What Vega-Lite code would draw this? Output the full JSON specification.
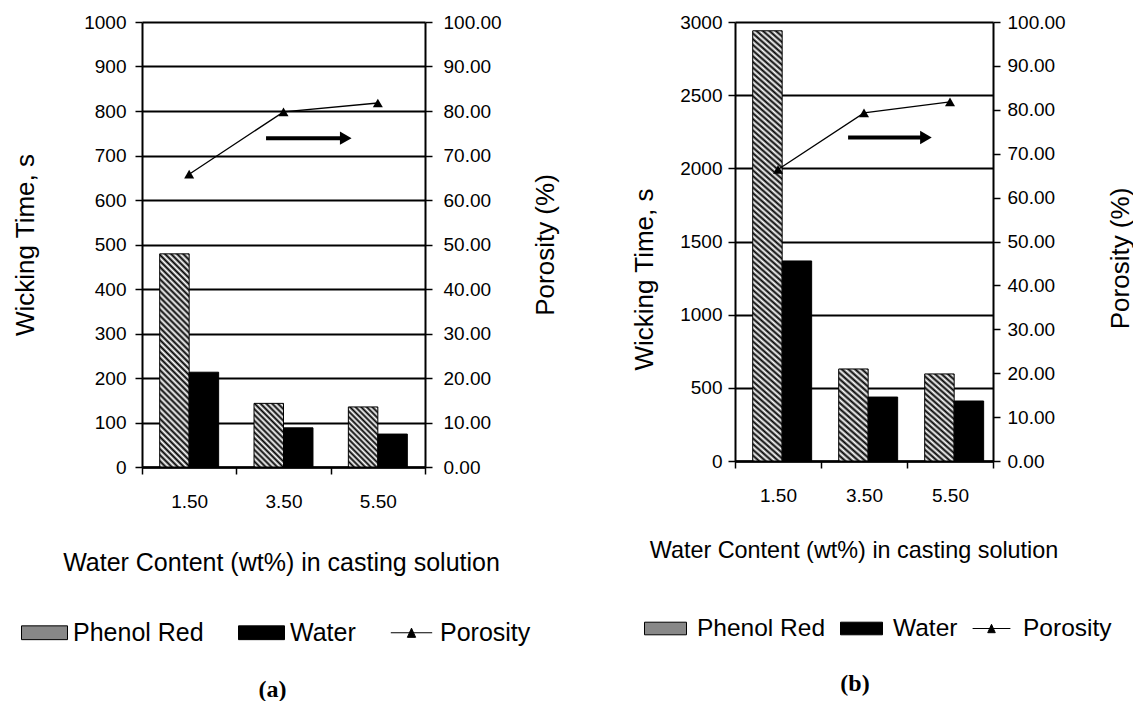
{
"$schema": "https://vega.github.io/schema/vega-lite/v6.json",
"padding": {"left": 12, "top": 13, "right": 0, "bottom": 0},
"spacing": 73,
"config": {
  "view": {"stroke": null},
  "axis": {"labelFont": "Liberation Sans", "labelFontSize": 19, "labelColor": "#000", "titleFont": "Liberation Sans", "titleFontSize": 26, "titleFontWeight": "normal", "titleColor": "#000", "domainColor": "#000", "domainWidth": 2, "tickColor": "#000", "tickWidth": 1.5, "tickSize": 7, "gridColor": "#000", "gridWidth": 1.8, "gridOpacity": 1, "labelOverlap": false, "labelFlush": false},
  "title": {"font": "Liberation Serif", "fontSize": 24, "fontWeight": "bold", "color": "#000"}
},
"resolve": {"scale": {"fill": "independent"}, "legend": {"fill": "independent"}},
"datasets": {
  "wick_a": [
    {"wc": "1.50", "series": "Phenol Red", "time": 479},
    {"wc": "1.50", "series": "Water", "time": 213},
    {"wc": "3.50", "series": "Phenol Red", "time": 143},
    {"wc": "3.50", "series": "Water", "time": 88},
    {"wc": "5.50", "series": "Phenol Red", "time": 135},
    {"wc": "5.50", "series": "Water", "time": 74}
  ],
  "por_a": [
    {"wc": "1.50", "porosity": 65.8},
    {"wc": "3.50", "porosity": 79.8},
    {"wc": "5.50", "porosity": 81.8}
  ],
  "arrow_a": [{"from": 3.13, "to": 4.82, "level": 73.9}],
  "wick_b": [
    {"wc": "1.50", "series": "Phenol Red", "time": 2940},
    {"wc": "1.50", "series": "Water", "time": 1367},
    {"wc": "3.50", "series": "Phenol Red", "time": 629},
    {"wc": "3.50", "series": "Water", "time": 437},
    {"wc": "5.50", "series": "Phenol Red", "time": 595},
    {"wc": "5.50", "series": "Water", "time": 410}
  ],
  "por_b": [
    {"wc": "1.50", "porosity": 66.4},
    {"wc": "3.50", "porosity": 79.3},
    {"wc": "5.50", "porosity": 81.8}
  ],
  "arrow_b": [{"from": 3.13, "to": 4.94, "level": 73.7}]
},
"hconcat": [
{
  "width": 283, "height": 445,
  "title": {"text": "(a)", "orient": "bottom", "anchor": "middle", "frame": "group", "dx": -11, "offset": 32},
  "resolve": {"scale": {"x": "independent", "y": "independent"}},
  "layer": [
    {
      "data": {"name": "wick_a"},
      "mark": {"type": "bar", "stroke": "#000", "strokeWidth": 1},
      "encoding": {
        "x": {"field": "wc", "type": "nominal", "sort": ["1.50", "3.50", "5.50"], "scale": {"paddingInner": 0, "paddingOuter": 0},
          "axis": {"title": "Water Content (wt%) in casting solution", "labelAngle": 0, "tickBand": "extent", "labelPadding": 18, "domainWidth": 2.5, "titleFontSize": 25, "titleX": 139, "titleY": 95, "titleAlign": "center", "titleBaseline": "middle"}},
        "xOffset": {"field": "series", "type": "nominal", "sort": ["Phenol Red", "Water"], "scale": {"paddingInner": 0, "paddingOuter": 0.6}},
        "y": {"field": "time", "type": "quantitative", "scale": {"domain": [0, 1000], "nice": false},
          "axis": {"values": [0,100,200,300,400,500,600,700,800,900,1000], "format": "d", "grid": true, "labelPadding": 9, "title": "Wicking Time, s", "titleAngle": -90, "titleX": -117, "titleY": 222.5, "titleAlign": "center", "titleBaseline": "middle"}},
        "fill": {
          "condition": [
            {"test": "datum.wc === '1.50' && datum.series === 'Phenol Red'", "value": {"gradient": "linear", "x1": 0, "y1": 1, "x2": 0.15455, "y2": -0.11698, "stops": [{"offset":0,"color":"#000"},{"offset":0.0125,"color":"#fff"},{"offset":0.025,"color":"#000"},{"offset":0.0375,"color":"#fff"},{"offset":0.05,"color":"#000"},{"offset":0.0625,"color":"#fff"},{"offset":0.075,"color":"#000"},{"offset":0.0875,"color":"#fff"},{"offset":0.1,"color":"#000"},{"offset":0.1125,"color":"#fff"},{"offset":0.125,"color":"#000"},{"offset":0.1375,"color":"#fff"},{"offset":0.15,"color":"#000"},{"offset":0.1625,"color":"#fff"},{"offset":0.175,"color":"#000"},{"offset":0.1875,"color":"#fff"},{"offset":0.2,"color":"#000"},{"offset":0.2125,"color":"#fff"},{"offset":0.225,"color":"#000"},{"offset":0.2375,"color":"#fff"},{"offset":0.25,"color":"#000"},{"offset":0.2625,"color":"#fff"},{"offset":0.275,"color":"#000"},{"offset":0.2875,"color":"#fff"},{"offset":0.3,"color":"#000"},{"offset":0.3125,"color":"#fff"},{"offset":0.325,"color":"#000"},{"offset":0.3375,"color":"#fff"},{"offset":0.35,"color":"#000"},{"offset":0.3625,"color":"#fff"},{"offset":0.375,"color":"#000"},{"offset":0.3875,"color":"#fff"},{"offset":0.4,"color":"#000"},{"offset":0.4125,"color":"#fff"},{"offset":0.425,"color":"#000"},{"offset":0.4375,"color":"#fff"},{"offset":0.45,"color":"#000"},{"offset":0.4625,"color":"#fff"},{"offset":0.475,"color":"#000"},{"offset":0.4875,"color":"#fff"},{"offset":0.5,"color":"#000"},{"offset":0.5125,"color":"#fff"},{"offset":0.525,"color":"#000"},{"offset":0.5375,"color":"#fff"},{"offset":0.55,"color":"#000"},{"offset":0.5625,"color":"#fff"},{"offset":0.575,"color":"#000"},{"offset":0.5875,"color":"#fff"},{"offset":0.6,"color":"#000"},{"offset":0.6125,"color":"#fff"},{"offset":0.625,"color":"#000"},{"offset":0.6375,"color":"#fff"},{"offset":0.65,"color":"#000"},{"offset":0.6625,"color":"#fff"},{"offset":0.675,"color":"#000"},{"offset":0.6875,"color":"#fff"},{"offset":0.7,"color":"#000"},{"offset":0.7125,"color":"#fff"},{"offset":0.725,"color":"#000"},{"offset":0.7375,"color":"#fff"},{"offset":0.75,"color":"#000"},{"offset":0.7625,"color":"#fff"},{"offset":0.775,"color":"#000"},{"offset":0.7875,"color":"#fff"},{"offset":0.8,"color":"#000"},{"offset":0.8125,"color":"#fff"},{"offset":0.825,"color":"#000"},{"offset":0.8375,"color":"#fff"},{"offset":0.85,"color":"#000"},{"offset":0.8625,"color":"#fff"},{"offset":0.875,"color":"#000"},{"offset":0.8875,"color":"#fff"},{"offset":0.9,"color":"#000"},{"offset":0.9125,"color":"#fff"},{"offset":0.925,"color":"#000"},{"offset":0.9375,"color":"#fff"},{"offset":0.95,"color":"#000"},{"offset":0.9625,"color":"#fff"},{"offset":0.975,"color":"#000"},{"offset":0.9875,"color":"#fff"},{"offset":1,"color":"#000"}]}},
            {"test": "datum.wc === '3.50' && datum.series === 'Phenol Red'", "value": {"gradient": "linear", "x1": 0, "y1": 1, "x2": 0.55843, "y2": -0.2047, "stops": [{"offset":0,"color":"#000"},{"offset":0.03125,"color":"#fff"},{"offset":0.0625,"color":"#000"},{"offset":0.09375,"color":"#fff"},{"offset":0.125,"color":"#000"},{"offset":0.15625,"color":"#fff"},{"offset":0.1875,"color":"#000"},{"offset":0.21875,"color":"#fff"},{"offset":0.25,"color":"#000"},{"offset":0.28125,"color":"#fff"},{"offset":0.3125,"color":"#000"},{"offset":0.34375,"color":"#fff"},{"offset":0.375,"color":"#000"},{"offset":0.40625,"color":"#fff"},{"offset":0.4375,"color":"#000"},{"offset":0.46875,"color":"#fff"},{"offset":0.5,"color":"#000"},{"offset":0.53125,"color":"#fff"},{"offset":0.5625,"color":"#000"},{"offset":0.59375,"color":"#fff"},{"offset":0.625,"color":"#000"},{"offset":0.65625,"color":"#fff"},{"offset":0.6875,"color":"#000"},{"offset":0.71875,"color":"#fff"},{"offset":0.75,"color":"#000"},{"offset":0.78125,"color":"#fff"},{"offset":0.8125,"color":"#000"},{"offset":0.84375,"color":"#fff"},{"offset":0.875,"color":"#000"},{"offset":0.90625,"color":"#fff"},{"offset":0.9375,"color":"#000"},{"offset":0.96875,"color":"#fff"},{"offset":1,"color":"#000"}]}},
            {"test": "datum.wc === '5.50' && datum.series === 'Phenol Red'", "value": {"gradient": "linear", "x1": 0, "y1": 1, "x2": 0.58988, "y2": -0.20136, "stops": [{"offset":0,"color":"#000"},{"offset":0.03125,"color":"#fff"},{"offset":0.0625,"color":"#000"},{"offset":0.09375,"color":"#fff"},{"offset":0.125,"color":"#000"},{"offset":0.15625,"color":"#fff"},{"offset":0.1875,"color":"#000"},{"offset":0.21875,"color":"#fff"},{"offset":0.25,"color":"#000"},{"offset":0.28125,"color":"#fff"},{"offset":0.3125,"color":"#000"},{"offset":0.34375,"color":"#fff"},{"offset":0.375,"color":"#000"},{"offset":0.40625,"color":"#fff"},{"offset":0.4375,"color":"#000"},{"offset":0.46875,"color":"#fff"},{"offset":0.5,"color":"#000"},{"offset":0.53125,"color":"#fff"},{"offset":0.5625,"color":"#000"},{"offset":0.59375,"color":"#fff"},{"offset":0.625,"color":"#000"},{"offset":0.65625,"color":"#fff"},{"offset":0.6875,"color":"#000"},{"offset":0.71875,"color":"#fff"},{"offset":0.75,"color":"#000"},{"offset":0.78125,"color":"#fff"},{"offset":0.8125,"color":"#000"},{"offset":0.84375,"color":"#fff"},{"offset":0.875,"color":"#000"},{"offset":0.90625,"color":"#fff"},{"offset":0.9375,"color":"#000"},{"offset":0.96875,"color":"#fff"},{"offset":1,"color":"#000"}]}}
          ],
          "field": "series", "type": "nominal",
          "scale": {"domain": ["Phenol Red", "Water", "Porosity"], "range": ["#888888", "#000000", "#000000"]},
          "legend": {"orient": "none", "legendX": -121, "legendY": 587, "direction": "horizontal", "title": null, "labelFont": "Liberation Sans", "labelFontSize": 25, "labelColor": "#000", "labelOffset": 5, "columnPadding": 32, "labelLimit": 400, "symbolSize": 2116, "symbolStrokeColor": "#000", "symbolStrokeWidth": 1, "symbolOpacity": 1,
            "encode": {"symbols": {"update": {
              "shape": [{"test": "datum.value === 'Porosity'", "value": "M-0.9,0H0.9M-0.18,0.2L0,-0.2L0.18,0.2Z"}, {"value": "M-1,-0.3H1V0.3H-1Z"}],
              "stroke": {"value": "#000"},
              "fill": [{"test": "datum.value === 'Phenol Red'", "value": {"gradient": "linear", "x1": 0, "y1": 1, "x2": 1.19268, "y2": 0.64219, "stops": [{"offset":0,"color":"#000"},{"offset":0.05,"color":"#fff"},{"offset":0.1,"color":"#000"},{"offset":0.15,"color":"#fff"},{"offset":0.2,"color":"#000"},{"offset":0.25,"color":"#fff"},{"offset":0.3,"color":"#000"},{"offset":0.35,"color":"#fff"},{"offset":0.4,"color":"#000"},{"offset":0.45,"color":"#fff"},{"offset":0.5,"color":"#000"},{"offset":0.55,"color":"#fff"},{"offset":0.6,"color":"#000"},{"offset":0.65,"color":"#fff"},{"offset":0.7,"color":"#000"},{"offset":0.75,"color":"#fff"},{"offset":0.8,"color":"#000"},{"offset":0.85,"color":"#fff"},{"offset":0.9,"color":"#000"},{"offset":0.95,"color":"#fff"},{"offset":1,"color":"#000"}]}}, {"value": "#000"}]
            }}}}
        }
      }
    },
    {
      "data": {"name": "por_a"},
      "mark": {"type": "line", "color": "#000", "strokeWidth": 1.3, "point": {"shape": "triangle-up", "filled": true, "color": "#000", "size": 100, "opacity": 1}},
      "encoding": {
        "x": {"field": "wc", "type": "nominal", "sort": ["1.50", "3.50", "5.50"], "scale": {"paddingInner": 0, "paddingOuter": 0}, "axis": null},
        "y": {"field": "porosity", "type": "quantitative", "scale": {"domain": [0, 100], "nice": false},
          "axis": {"orient": "right", "values": [0,10,20,30,40,50,60,70,80,90,100], "format": ".2f", "grid": false, "labelPadding": 11, "title": "Porosity (%)", "titleAngle": -90, "titleX": 120, "titleY": 222.5, "titleAlign": "center", "titleBaseline": "middle"}}
      }
    },
    {
      "data": {"name": "arrow_a"},
      "mark": {"type": "rule", "color": "#000", "strokeWidth": 4},
      "encoding": {
        "x": {"field": "from", "type": "quantitative", "scale": {"domain": [0.5, 6.5], "nice": false, "zero": false}, "axis": null},
        "x2": {"field": "to"},
        "y": {"field": "level", "type": "quantitative", "scale": {"domain": [0, 100], "nice": false}, "axis": null}
      }
    },
    {
      "data": {"name": "arrow_a"},
      "mark": {"type": "point", "shape": "triangle-right", "filled": true, "color": "#000", "size": 180, "opacity": 1},
      "encoding": {
        "x": {"field": "to", "type": "quantitative", "scale": {"domain": [0.5, 6.5], "nice": false, "zero": false}, "axis": null},
        "y": {"field": "level", "type": "quantitative", "scale": {"domain": [0, 100], "nice": false}, "axis": null}
      }
    }
  ]
},
{
  "width": 258, "height": 439,
  "title": {"text": "(b)", "orient": "bottom", "anchor": "middle", "frame": "group", "dx": -9, "offset": 32},
  "resolve": {"scale": {"x": "independent", "y": "independent"}},
  "layer": [
    {
      "data": {"name": "wick_b"},
      "mark": {"type": "bar", "stroke": "#000", "strokeWidth": 1},
      "encoding": {
        "x": {"field": "wc", "type": "nominal", "sort": ["1.50", "3.50", "5.50"], "scale": {"paddingInner": 0, "paddingOuter": 0},
          "axis": {"title": "Water Content (wt%) in casting solution", "labelAngle": 0, "tickBand": "extent", "labelPadding": 18, "domainWidth": 2.5, "titleFontSize": 23.4, "titleX": 118.5, "titleY": 89, "titleAlign": "center", "titleBaseline": "middle"}},
        "xOffset": {"field": "series", "type": "nominal", "sort": ["Phenol Red", "Water"], "scale": {"paddingInner": 0, "paddingOuter": 0.65}},
        "y": {"field": "time", "type": "quantitative", "scale": {"domain": [0, 3000], "nice": false},
          "axis": {"values": [0,500,1000,1500,2000,2500,3000], "format": "d", "grid": true, "labelPadding": 6, "title": "Wicking Time, s", "titleAngle": -90, "titleX": -91, "titleY": 257, "titleAlign": "center", "titleBaseline": "middle"}},
        "fill": {
          "condition": [
            {"test": "datum.wc === '1.50' && datum.series === 'Phenol Red'", "value": {"gradient": "linear", "x1": 0, "y1": 1, "x2": 0.06401, "y2": -0.05669, "stops": [{"offset":0,"color":"#000"},{"offset":0.00625,"color":"#fff"},{"offset":0.0125,"color":"#000"},{"offset":0.01875,"color":"#fff"},{"offset":0.025,"color":"#000"},{"offset":0.03125,"color":"#fff"},{"offset":0.0375,"color":"#000"},{"offset":0.04375,"color":"#fff"},{"offset":0.05,"color":"#000"},{"offset":0.05625,"color":"#fff"},{"offset":0.0625,"color":"#000"},{"offset":0.06875,"color":"#fff"},{"offset":0.075,"color":"#000"},{"offset":0.08125,"color":"#fff"},{"offset":0.0875,"color":"#000"},{"offset":0.09375,"color":"#fff"},{"offset":0.1,"color":"#000"},{"offset":0.10625,"color":"#fff"},{"offset":0.1125,"color":"#000"},{"offset":0.11875,"color":"#fff"},{"offset":0.125,"color":"#000"},{"offset":0.13125,"color":"#fff"},{"offset":0.1375,"color":"#000"},{"offset":0.14375,"color":"#fff"},{"offset":0.15,"color":"#000"},{"offset":0.15625,"color":"#fff"},{"offset":0.1625,"color":"#000"},{"offset":0.16875,"color":"#fff"},{"offset":0.175,"color":"#000"},{"offset":0.18125,"color":"#fff"},{"offset":0.1875,"color":"#000"},{"offset":0.19375,"color":"#fff"},{"offset":0.2,"color":"#000"},{"offset":0.20625,"color":"#fff"},{"offset":0.2125,"color":"#000"},{"offset":0.21875,"color":"#fff"},{"offset":0.225,"color":"#000"},{"offset":0.23125,"color":"#fff"},{"offset":0.2375,"color":"#000"},{"offset":0.24375,"color":"#fff"},{"offset":0.25,"color":"#000"},{"offset":0.25625,"color":"#fff"},{"offset":0.2625,"color":"#000"},{"offset":0.26875,"color":"#fff"},{"offset":0.275,"color":"#000"},{"offset":0.28125,"color":"#fff"},{"offset":0.2875,"color":"#000"},{"offset":0.29375,"color":"#fff"},{"offset":0.3,"color":"#000"},{"offset":0.30625,"color":"#fff"},{"offset":0.3125,"color":"#000"},{"offset":0.31875,"color":"#fff"},{"offset":0.325,"color":"#000"},{"offset":0.33125,"color":"#fff"},{"offset":0.3375,"color":"#000"},{"offset":0.34375,"color":"#fff"},{"offset":0.35,"color":"#000"},{"offset":0.35625,"color":"#fff"},{"offset":0.3625,"color":"#000"},{"offset":0.36875,"color":"#fff"},{"offset":0.375,"color":"#000"},{"offset":0.38125,"color":"#fff"},{"offset":0.3875,"color":"#000"},{"offset":0.39375,"color":"#fff"},{"offset":0.4,"color":"#000"},{"offset":0.40625,"color":"#fff"},{"offset":0.4125,"color":"#000"},{"offset":0.41875,"color":"#fff"},{"offset":0.425,"color":"#000"},{"offset":0.43125,"color":"#fff"},{"offset":0.4375,"color":"#000"},{"offset":0.44375,"color":"#fff"},{"offset":0.45,"color":"#000"},{"offset":0.45625,"color":"#fff"},{"offset":0.4625,"color":"#000"},{"offset":0.46875,"color":"#fff"},{"offset":0.475,"color":"#000"},{"offset":0.48125,"color":"#fff"},{"offset":0.4875,"color":"#000"},{"offset":0.49375,"color":"#fff"},{"offset":0.5,"color":"#000"},{"offset":0.50625,"color":"#fff"},{"offset":0.5125,"color":"#000"},{"offset":0.51875,"color":"#fff"},{"offset":0.525,"color":"#000"},{"offset":0.53125,"color":"#fff"},{"offset":0.5375,"color":"#000"},{"offset":0.54375,"color":"#fff"},{"offset":0.55,"color":"#000"},{"offset":0.55625,"color":"#fff"},{"offset":0.5625,"color":"#000"},{"offset":0.56875,"color":"#fff"},{"offset":0.575,"color":"#000"},{"offset":0.58125,"color":"#fff"},{"offset":0.5875,"color":"#000"},{"offset":0.59375,"color":"#fff"},{"offset":0.6,"color":"#000"},{"offset":0.60625,"color":"#fff"},{"offset":0.6125,"color":"#000"},{"offset":0.61875,"color":"#fff"},{"offset":0.625,"color":"#000"},{"offset":0.63125,"color":"#fff"},{"offset":0.6375,"color":"#000"},{"offset":0.64375,"color":"#fff"},{"offset":0.65,"color":"#000"},{"offset":0.65625,"color":"#fff"},{"offset":0.6625,"color":"#000"},{"offset":0.66875,"color":"#fff"},{"offset":0.675,"color":"#000"},{"offset":0.68125,"color":"#fff"},{"offset":0.6875,"color":"#000"},{"offset":0.69375,"color":"#fff"},{"offset":0.7,"color":"#000"},{"offset":0.70625,"color":"#fff"},{"offset":0.7125,"color":"#000"},{"offset":0.71875,"color":"#fff"},{"offset":0.725,"color":"#000"},{"offset":0.73125,"color":"#fff"},{"offset":0.7375,"color":"#000"},{"offset":0.74375,"color":"#fff"},{"offset":0.75,"color":"#000"},{"offset":0.75625,"color":"#fff"},{"offset":0.7625,"color":"#000"},{"offset":0.76875,"color":"#fff"},{"offset":0.775,"color":"#000"},{"offset":0.78125,"color":"#fff"},{"offset":0.7875,"color":"#000"},{"offset":0.79375,"color":"#fff"},{"offset":0.8,"color":"#000"},{"offset":0.80625,"color":"#fff"},{"offset":0.8125,"color":"#000"},{"offset":0.81875,"color":"#fff"},{"offset":0.825,"color":"#000"},{"offset":0.83125,"color":"#fff"},{"offset":0.8375,"color":"#000"},{"offset":0.84375,"color":"#fff"},{"offset":0.85,"color":"#000"},{"offset":0.85625,"color":"#fff"},{"offset":0.8625,"color":"#000"},{"offset":0.86875,"color":"#fff"},{"offset":0.875,"color":"#000"},{"offset":0.88125,"color":"#fff"},{"offset":0.8875,"color":"#000"},{"offset":0.89375,"color":"#fff"},{"offset":0.9,"color":"#000"},{"offset":0.90625,"color":"#fff"},{"offset":0.9125,"color":"#000"},{"offset":0.91875,"color":"#fff"},{"offset":0.925,"color":"#000"},{"offset":0.93125,"color":"#fff"},{"offset":0.9375,"color":"#000"},{"offset":0.94375,"color":"#fff"},{"offset":0.95,"color":"#000"},{"offset":0.95625,"color":"#fff"},{"offset":0.9625,"color":"#000"},{"offset":0.96875,"color":"#fff"},{"offset":0.975,"color":"#000"},{"offset":0.98125,"color":"#fff"},{"offset":0.9875,"color":"#000"},{"offset":0.99375,"color":"#fff"},{"offset":1,"color":"#000"}]}},
            {"test": "datum.wc === '3.50' && datum.series === 'Phenol Red'", "value": {"gradient": "linear", "x1": 0, "y1": 1, "x2": 0.33634, "y2": -0.18789, "stops": [{"offset":0,"color":"#000"},{"offset":0.025,"color":"#fff"},{"offset":0.05,"color":"#000"},{"offset":0.075,"color":"#fff"},{"offset":0.1,"color":"#000"},{"offset":0.125,"color":"#fff"},{"offset":0.15,"color":"#000"},{"offset":0.175,"color":"#fff"},{"offset":0.2,"color":"#000"},{"offset":0.225,"color":"#fff"},{"offset":0.25,"color":"#000"},{"offset":0.275,"color":"#fff"},{"offset":0.3,"color":"#000"},{"offset":0.325,"color":"#fff"},{"offset":0.35,"color":"#000"},{"offset":0.375,"color":"#fff"},{"offset":0.4,"color":"#000"},{"offset":0.425,"color":"#fff"},{"offset":0.45,"color":"#000"},{"offset":0.475,"color":"#fff"},{"offset":0.5,"color":"#000"},{"offset":0.525,"color":"#fff"},{"offset":0.55,"color":"#000"},{"offset":0.575,"color":"#fff"},{"offset":0.6,"color":"#000"},{"offset":0.625,"color":"#fff"},{"offset":0.65,"color":"#000"},{"offset":0.675,"color":"#fff"},{"offset":0.7,"color":"#000"},{"offset":0.725,"color":"#fff"},{"offset":0.75,"color":"#000"},{"offset":0.775,"color":"#fff"},{"offset":0.8,"color":"#000"},{"offset":0.825,"color":"#fff"},{"offset":0.85,"color":"#000"},{"offset":0.875,"color":"#fff"},{"offset":0.9,"color":"#000"},{"offset":0.925,"color":"#fff"},{"offset":0.95,"color":"#000"},{"offset":0.975,"color":"#fff"},{"offset":1,"color":"#000"}]}},
            {"test": "datum.wc === '5.50' && datum.series === 'Phenol Red'", "value": {"gradient": "linear", "x1": 0, "y1": 1, "x2": 0.35692, "y2": -0.1925, "stops": [{"offset":0,"color":"#000"},{"offset":0.025,"color":"#fff"},{"offset":0.05,"color":"#000"},{"offset":0.075,"color":"#fff"},{"offset":0.1,"color":"#000"},{"offset":0.125,"color":"#fff"},{"offset":0.15,"color":"#000"},{"offset":0.175,"color":"#fff"},{"offset":0.2,"color":"#000"},{"offset":0.225,"color":"#fff"},{"offset":0.25,"color":"#000"},{"offset":0.275,"color":"#fff"},{"offset":0.3,"color":"#000"},{"offset":0.325,"color":"#fff"},{"offset":0.35,"color":"#000"},{"offset":0.375,"color":"#fff"},{"offset":0.4,"color":"#000"},{"offset":0.425,"color":"#fff"},{"offset":0.45,"color":"#000"},{"offset":0.475,"color":"#fff"},{"offset":0.5,"color":"#000"},{"offset":0.525,"color":"#fff"},{"offset":0.55,"color":"#000"},{"offset":0.575,"color":"#fff"},{"offset":0.6,"color":"#000"},{"offset":0.625,"color":"#fff"},{"offset":0.65,"color":"#000"},{"offset":0.675,"color":"#fff"},{"offset":0.7,"color":"#000"},{"offset":0.725,"color":"#fff"},{"offset":0.75,"color":"#000"},{"offset":0.775,"color":"#fff"},{"offset":0.8,"color":"#000"},{"offset":0.825,"color":"#fff"},{"offset":0.85,"color":"#000"},{"offset":0.875,"color":"#fff"},{"offset":0.9,"color":"#000"},{"offset":0.925,"color":"#fff"},{"offset":0.95,"color":"#000"},{"offset":0.975,"color":"#fff"},{"offset":1,"color":"#000"}]}}
          ],
          "field": "series", "type": "nominal",
          "scale": {"domain": ["Phenol Red", "Water", "Porosity"], "range": ["#888888", "#000000", "#000000"]},
          "legend": {"orient": "none", "legendX": -91, "legendY": 585, "direction": "horizontal", "title": null, "labelFont": "Liberation Sans", "labelFontSize": 24.5, "labelColor": "#000", "labelOffset": 10, "columnPadding": 12, "labelLimit": 400, "symbolSize": 1764, "symbolStrokeColor": "#000", "symbolStrokeWidth": 1, "symbolOpacity": 1,
            "encode": {"symbols": {"update": {
              "shape": [{"test": "datum.value === 'Porosity'", "value": "M-0.9,0H0.9M-0.18,0.2L0,-0.2L0.18,0.2Z"}, {"value": "M-1,-0.3H1V0.3H-1Z"}],
              "stroke": {"value": "#000"},
              "fill": [{"test": "datum.value === 'Phenol Red'", "value": {"gradient": "linear", "x1": 0, "y1": 1, "x2": 1.19268, "y2": 0.64219, "stops": [{"offset":0,"color":"#000"},{"offset":0.05,"color":"#fff"},{"offset":0.1,"color":"#000"},{"offset":0.15,"color":"#fff"},{"offset":0.2,"color":"#000"},{"offset":0.25,"color":"#fff"},{"offset":0.3,"color":"#000"},{"offset":0.35,"color":"#fff"},{"offset":0.4,"color":"#000"},{"offset":0.45,"color":"#fff"},{"offset":0.5,"color":"#000"},{"offset":0.55,"color":"#fff"},{"offset":0.6,"color":"#000"},{"offset":0.65,"color":"#fff"},{"offset":0.7,"color":"#000"},{"offset":0.75,"color":"#fff"},{"offset":0.8,"color":"#000"},{"offset":0.85,"color":"#fff"},{"offset":0.9,"color":"#000"},{"offset":0.95,"color":"#fff"},{"offset":1,"color":"#000"}]}}, {"value": "#000"}]
            }}}}
        }
      }
    },
    {
      "data": {"name": "por_b"},
      "mark": {"type": "line", "color": "#000", "strokeWidth": 1.3, "point": {"shape": "triangle-up", "filled": true, "color": "#000", "size": 100, "opacity": 1}},
      "encoding": {
        "x": {"field": "wc", "type": "nominal", "sort": ["1.50", "3.50", "5.50"], "scale": {"paddingInner": 0, "paddingOuter": 0}, "axis": null},
        "y": {"field": "porosity", "type": "quantitative", "scale": {"domain": [0, 100], "nice": false},
          "axis": {"orient": "right", "values": [0,10,20,30,40,50,60,70,80,90,100], "format": ".2f", "grid": false, "labelPadding": 7, "title": "Porosity (%)", "titleAngle": -90, "titleX": 127, "titleY": 236, "titleAlign": "center", "titleBaseline": "middle"}}
      }
    },
    {
      "data": {"name": "arrow_b"},
      "mark": {"type": "rule", "color": "#000", "strokeWidth": 4},
      "encoding": {
        "x": {"field": "from", "type": "quantitative", "scale": {"domain": [0.5, 6.5], "nice": false, "zero": false}, "axis": null},
        "x2": {"field": "to"},
        "y": {"field": "level", "type": "quantitative", "scale": {"domain": [0, 100], "nice": false}, "axis": null}
      }
    },
    {
      "data": {"name": "arrow_b"},
      "mark": {"type": "point", "shape": "triangle-right", "filled": true, "color": "#000", "size": 180, "opacity": 1},
      "encoding": {
        "x": {"field": "to", "type": "quantitative", "scale": {"domain": [0.5, 6.5], "nice": false, "zero": false}, "axis": null},
        "y": {"field": "level", "type": "quantitative", "scale": {"domain": [0, 100], "nice": false}, "axis": null}
      }
    }
  ]
}
]
}
